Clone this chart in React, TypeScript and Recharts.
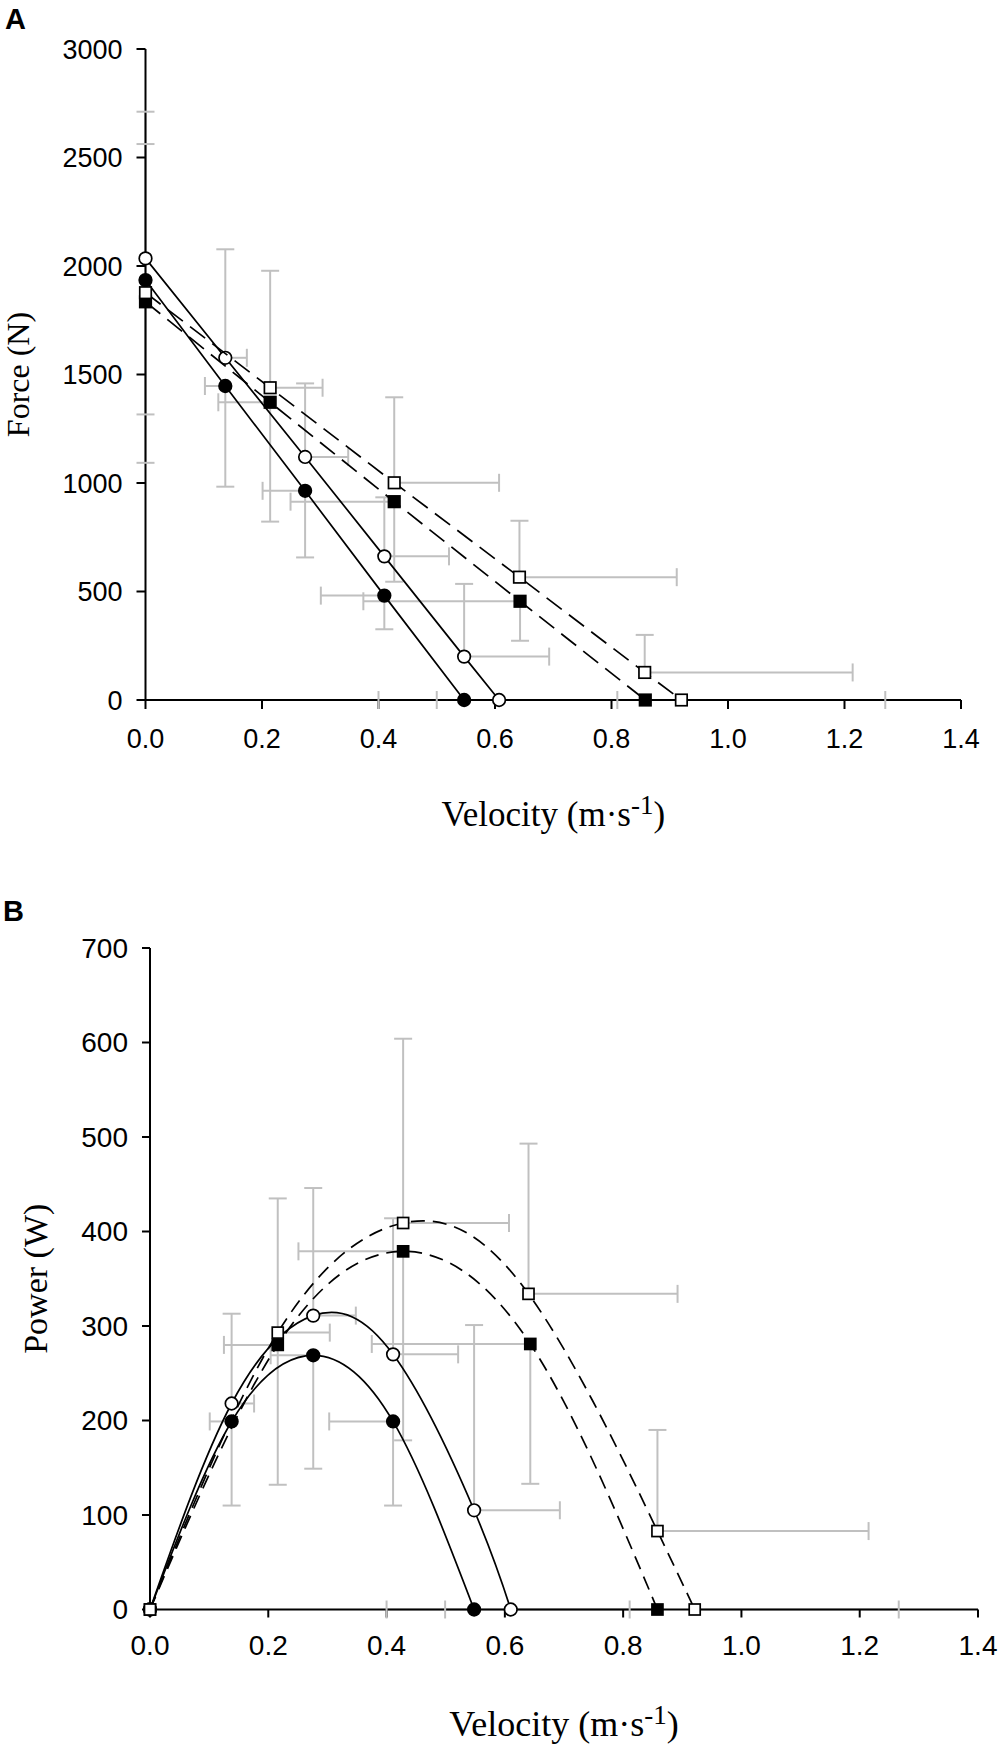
import React from 'react';
import { ScatterChart, Scatter, XAxis, YAxis, ErrorBar, Label } from 'recharts';

// shared axis ticks
const velocityTicks = [0, 0.2, 0.4, 0.6, 0.8, 1.0, 1.2, 1.4];
const forceTicks = [0, 500, 1000, 1500, 2000, 2500, 3000];
const powerTicks = [0, 100, 200, 300, 400, 500, 600, 700];

// panel A - force (N) vs velocity (m/s)
const fcVelA = [0, 0.137, 0.274, 0.41, 0.547];
const fcForce = [1935, 1447, 964, 481, 0];
const fcForceSd = [619, 464, 307, 155, 0];
const fcVelSdA = [0, 0.035, 0.073, 0.109, 0.047];

const ocVelA = [0, 0.137, 0.274, 0.41, 0.547, 0.607];
const ocForce = [2035, 1577, 1120, 662, 200, 0];
const ocForceSd = [676, 500, 339, 272, 335, 0];
const ocVelSdA = [0, 0.037, 0.074, 0.111, 0.146, 0.203];

const fsVelA = [0, 0.214, 0.427, 0.643, 0.858];
const fsForce = [1835, 1372, 914, 455, 0];
const fsForceSd = [742, 550, 369, 182, 0];
const fsVelSdA = [0, 0.089, 0.178, 0.269, 0.458];

const osVelA = [0, 0.214, 0.427, 0.642, 0.857, 0.92];
const osForce = [1877, 1439, 1001, 566, 127, 0];
const osForceSd = [685, 539, 394, 260, 173, 0];
const osVelSdA = [0, 0.09, 0.18, 0.27, 0.357, 0.35];

// panel B - power (W) vs velocity (m/s)
const fcVelB = [0, 0.138, 0.276, 0.411, 0.548];
const fcPower = [0, 199, 269, 199, 0];
const fcPowerSd = [0, 89, 120, 89, 0];
const fcVelSdB = [0, 0.037, 0.072, 0.108, 0.049];

const ocVelB = [0, 0.138, 0.276, 0.411, 0.548, 0.61];
const ocPower = [0, 218, 311, 270, 105, 0];
const ocPowerSd = [0, 95, 135, 144, 196, 0];
const ocVelSdB = [0, 0.038, 0.072, 0.11, 0.145, 0.201];

const fsVelB = [0, 0.216, 0.428, 0.643, 0.858];
const fsPower = [0, 280, 379, 281, 0];
const fsPowerSd = [0, 148, 200, 148, 0];
const fsVelSdB = [0, 0.091, 0.177, 0.268, 0.458];

const osVelB = [0, 0.216, 0.428, 0.64, 0.858, 0.921];
const osPower = [0, 293, 409, 334, 83, 0];
const osPowerSd = [0, 142, 195, 159, 107, 0];
const osVelSdB = [0, 0.088, 0.179, 0.252, 0.357, 0.345];

const SANS = "'Liberation Sans', Arial, sans-serif";
const SERIF = "'Liberation Serif', 'Times New Roman', serif";
const GREY = '#c0c0c0';
const AXIS = { stroke: '#000', strokeWidth: 2 };

type Marker = 'circleFilled' | 'circleOpen' | 'squareFilled' | 'squareOpen';

interface SeriesDef {
  vel: number[];
  val: number[];
  ySd: number[];
  xSd: number[];
  marker: Marker;
  dashed: boolean;
}

const isOpen = (m: Marker) => m === 'circleOpen' || m === 'squareOpen';

// open symbols carry the + error bars, filled symbols the - ones
const toPoints = (s: SeriesDef) =>
  s.vel.map((v, i) => {
    const up = isOpen(s.marker);
    return {
      v,
      y: s.val[i],
      ey: up ? [0, s.ySd[i]] : [s.ySd[i], 0],
      ex: up ? [0, s.xSd[i]] : [s.xSd[i], 0],
    };
  });

const toCaps = (s: SeriesDef) => {
  const sign = isOpen(s.marker) ? 1 : -1;
  const caps: { v: number; y: number; k: string }[] = [];
  s.vel.forEach((v, i) => {
    if (s.ySd[i] > 0) caps.push({ v, y: s.val[i] + sign * s.ySd[i], k: 'h' });
    if (s.xSd[i] > 0) caps.push({ v: v + sign * s.xSd[i], y: s.val[i], k: 'v' });
  });
  return caps;
};

const seriesA: SeriesDef[] = [
  { vel: fcVelA, val: fcForce, ySd: fcForceSd, xSd: fcVelSdA, marker: 'circleFilled', dashed: false },
  { vel: ocVelA, val: ocForce, ySd: ocForceSd, xSd: ocVelSdA, marker: 'circleOpen', dashed: false },
  { vel: fsVelA, val: fsForce, ySd: fsForceSd, xSd: fsVelSdA, marker: 'squareFilled', dashed: true },
  { vel: osVelA, val: osForce, ySd: osForceSd, xSd: osVelSdA, marker: 'squareOpen', dashed: true },
];

const seriesB: SeriesDef[] = [
  { vel: fcVelB, val: fcPower, ySd: fcPowerSd, xSd: fcVelSdB, marker: 'circleFilled', dashed: false },
  { vel: ocVelB, val: ocPower, ySd: ocPowerSd, xSd: ocVelSdB, marker: 'circleOpen', dashed: false },
  { vel: fsVelB, val: fsPower, ySd: fsPowerSd, xSd: fsVelSdB, marker: 'squareFilled', dashed: true },
  { vel: osVelB, val: osPower, ySd: osPowerSd, xSd: osVelSdB, marker: 'squareOpen', dashed: true },
];

const noShape = () => <g />;

const capShape = (props: any) => {
  const { cx, cy, payload } = props;
  if (payload.k === 'h') {
    return <line x1={cx - 9} x2={cx + 9} y1={cy} y2={cy} stroke={GREY} strokeWidth={2} />;
  }
  return <line x1={cx} x2={cx} y1={cy - 9} y2={cy + 9} stroke={GREY} strokeWidth={2} />;
};

const markerShape = (m: Marker, r: number, side: number) => (props: any) => {
  const { cx, cy } = props;
  const fill = isOpen(m) ? '#fff' : '#000';
  if (m === 'circleFilled' || m === 'circleOpen') {
    return <circle cx={cx} cy={cy} r={r} fill={fill} stroke="#000" strokeWidth={1.7} />;
  }
  return (
    <rect x={cx - side / 2} y={cy - side / 2} width={side} height={side} fill={fill} stroke="#000" strokeWidth={1.7} />
  );
};

interface PanelProps {
  letter: string;
  letterX: number;
  letterBase: number;
  series: SeriesDef[];
  yTicks: number[];
  yMax: number;
  height: number;
  margin: { top: number; right: number; bottom: number; left: number };
  yAxisWidth: number;
  xAxisHeight: number;
  tickFont: number;
  tickSize: number;
  xTickMargin: number;
  yTickMargin: number;
  yTitle: string;
  yTitleX: number;
  yTitleSize: number;
  xTitleBase: number;
  xTitleSize: number;
  joint: 'linear' | 'natural';
  dash: string;
  r: number;
  side: number;
}

function Panel(p: PanelProps) {
  const width = 1000;
  const plotLeft = p.margin.left + p.yAxisWidth;
  const plotRight = width - p.margin.right;
  const plotTop = p.margin.top;
  const plotBottom = p.height - p.margin.bottom - p.xAxisHeight;
  const caps = p.series.flatMap(toCaps);

  return (
    <ScatterChart width={width} height={p.height} margin={p.margin}>
      <XAxis
        type="number"
        dataKey="v"
        domain={[0, 1.4]}
        ticks={velocityTicks}
        interval={0}
        tickFormatter={(t: number) => t.toFixed(1)}
        height={p.xAxisHeight}
        tick={{ fontSize: p.tickFont, fill: '#000', fontFamily: SANS }}
        tickSize={p.tickSize}
        tickMargin={p.xTickMargin}
        axisLine={AXIS}
        tickLine={AXIS}
      >
        <Label
          content={() => (
            <g>
              <text
                x={(plotLeft + plotRight) / 2}
                y={p.xTitleBase}
                textAnchor="middle"
                fontFamily={SERIF}
                fontSize={p.xTitleSize}
                fill="#000"
              >
                Velocity (m·s
                <tspan dy={-12} fontSize={Math.round(p.xTitleSize * 0.76)}>-1</tspan>
                <tspan dy={12}>)</tspan>
              </text>
              <text
                x={p.letterX}
                y={p.letterBase}
                fontFamily={SANS}
                fontWeight="bold"
                fontSize={29}
                fill="#000"
              >
                {p.letter}
              </text>
            </g>
          )}
        />
      </XAxis>
      <YAxis
        type="number"
        dataKey="y"
        domain={[0, p.yMax]}
        ticks={p.yTicks}
        interval={0}
        width={p.yAxisWidth}
        tick={{ fontSize: p.tickFont, fill: '#000', fontFamily: SANS }}
        tickSize={p.tickSize}
        tickMargin={p.yTickMargin}
        axisLine={AXIS}
        tickLine={AXIS}
      >
        <Label
          content={() => {
            const cy = (plotTop + plotBottom) / 2;
            return (
              <text
                x={p.yTitleX}
                y={cy}
                transform={`rotate(-90 ${p.yTitleX} ${cy})`}
                textAnchor="middle"
                fontFamily={SERIF}
                fontSize={p.yTitleSize}
                fill="#000"
              >
                {p.yTitle}
              </text>
            );
          }}
        />
      </YAxis>

      {p.series.map((s, i) => (
        <Scatter key={'err' + i} data={toPoints(s)} shape={noShape} isAnimationActive={false}>
          <ErrorBar dataKey="ey" direction="y" width={0} stroke={GREY} strokeWidth={2} isAnimationActive={false} />
          <ErrorBar dataKey="ex" direction="x" width={0} stroke={GREY} strokeWidth={2} isAnimationActive={false} />
        </Scatter>
      ))}
      <Scatter data={caps} shape={capShape} isAnimationActive={false} />

      {p.series.map((s, i) => (
        <Scatter
          key={'s' + i}
          data={toPoints(s)}
          line={{ stroke: '#000', strokeWidth: 1.7, strokeDasharray: s.dashed ? p.dash : undefined }}
          lineType="joint"
          lineJointType={p.joint}
          shape={markerShape(s.marker, p.r, p.side)}
          isAnimationActive={false}
        />
      ))}
    </ScatterChart>
  );
}

export default function App() {
  return (
    <div
      style={{
        position: 'fixed',
        left: 0,
        top: 0,
        width: 1000,
        height: 1747,
        overflow: 'hidden',
        background: '#fff',
      }}
    >
      <div style={{ position: 'absolute', left: 0, top: 0 }}>
        <Panel
          letter="A"
          letterX={5}
          letterBase={29}
          series={seriesA}
          yTicks={forceTicks}
          yMax={3000}
          height={860}
          margin={{ top: 49, right: 39, bottom: 0, left: 0 }}
          yAxisWidth={145.5}
          xAxisHeight={160}
          tickFont={27}
          tickSize={9}
          xTickMargin={20}
          yTickMargin={14}
          yTitle="Force (N)"
          yTitleX={29}
          yTitleSize={32}
          xTitleBase={826}
          xTitleSize={35}
          joint="linear"
          dash="19 9"
          r={6.3}
          side={11.5}
        />
      </div>
      <div style={{ position: 'absolute', left: 0, top: 880 }}>
        <Panel
          letter="B"
          letterX={3}
          letterBase={41}
          series={seriesB}
          yTicks={powerTicks}
          yMax={700}
          height={867}
          margin={{ top: 68, right: 22, bottom: 0, left: 0 }}
          yAxisWidth={150}
          xAxisHeight={137.5}
          tickFont={28}
          tickSize={8}
          xTickMargin={18}
          yTickMargin={14}
          yTitle="Power (W)"
          yTitleX={47}
          yTitleSize={34}
          xTitleBase={856}
          xTitleSize={36}
          joint="natural"
          dash="14 8"
          r={6.3}
          side={11}
        />
      </div>
    </div>
  );
}
